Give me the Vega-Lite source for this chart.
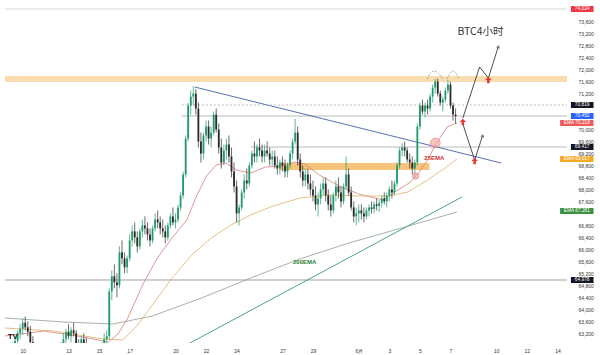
{
"$schema":"https://vega.github.io/schema/vega-lite/v6.json",
"width":572,"height":343,
"autosize":{"type":"none"},
"padding":{"left":0,"top":0,"right":28,"bottom":12},
"background":"#ffffff",
"config":{"view":{"stroke":null},"axis":{"titleOpacity":0,"grid":false,"labelOverlap":false,"labelSeparation":0},"font":"Liberation Sans"},
"resolve":{"scale":{"color":"independent","size":"independent"}},
"datasets":{
"k":[
{"d":9.0,"o":62100,"h":62400,"l":61800,"c":62300},{"d":9.167,"o":62300,"h":62700,"l":62200,"c":62600},{"d":9.333,"o":62600,"h":62900,"l":62400,"c":62800},{"d":9.5,"o":62800,"h":63100,"l":62600,"c":62950},{"d":9.667,"o":62950,"h":63300,"l":62850,"c":63200},{"d":9.833,"o":63200,"h":63500,"l":63000,"c":63350},
{"d":10.0,"o":63350,"h":63700,"l":63150,"c":63550},{"d":10.167,"o":63550,"h":63760,"l":63300,"c":63400},{"d":10.333,"o":63400,"h":63600,"l":63100,"c":63250},{"d":10.5,"o":63250,"h":63450,"l":62800,"c":62900},{"d":10.667,"o":62900,"h":63100,"l":62200,"c":62400},{"d":10.833,"o":62400,"h":62600,"l":61800,"c":62000},
{"d":11.0,"o":62000,"h":62200,"l":61700,"c":61900},{"d":11.167,"o":61900,"h":62100,"l":61600,"c":61800},{"d":11.333,"o":61800,"h":62000,"l":61500,"c":61700},{"d":11.5,"o":61700,"h":62100,"l":61600,"c":62000},{"d":11.667,"o":62000,"h":62300,"l":61800,"c":62100},{"d":11.833,"o":62100,"h":62400,"l":61900,"c":62000},
{"d":12.0,"o":62000,"h":62200,"l":61700,"c":61900},{"d":12.167,"o":61900,"h":62300,"l":61800,"c":62200},{"d":12.333,"o":62200,"h":62600,"l":62100,"c":62500},{"d":12.5,"o":62500,"h":62900,"l":62400,"c":62800},{"d":12.667,"o":62800,"h":63200,"l":62700,"c":63000},{"d":12.833,"o":63000,"h":63350,"l":62850,"c":63250},
{"d":13.0,"o":63250,"h":63500,"l":63000,"c":63100},{"d":13.167,"o":63100,"h":63400,"l":62900,"c":63300},{"d":13.333,"o":63300,"h":63550,"l":63100,"c":63200},{"d":13.5,"o":63200,"h":63300,"l":62700,"c":62800},{"d":13.667,"o":62800,"h":63000,"l":62500,"c":62700},{"d":13.833,"o":62700,"h":63100,"l":62600,"c":63000},
{"d":14.0,"o":63000,"h":63200,"l":62700,"c":62850},{"d":14.167,"o":62850,"h":63050,"l":62500,"c":62600},{"d":14.333,"o":62600,"h":62800,"l":62200,"c":62300},{"d":14.5,"o":62300,"h":62500,"l":61900,"c":62100},{"d":14.667,"o":62100,"h":62300,"l":61700,"c":61900},{"d":14.833,"o":61900,"h":62200,"l":61800,"c":62100},
{"d":15.0,"o":62100,"h":62500,"l":62000,"c":62400},{"d":15.167,"o":62400,"h":62900,"l":62300,"c":62800},{"d":15.333,"o":62800,"h":63200,"l":62600,"c":63000},{"d":15.5,"o":63000,"h":63300,"l":62700,"c":63100},{"d":15.667,"o":63100,"h":64700,"l":63000,"c":64600},{"d":15.833,"o":64600,"h":65300,"l":64300,"c":65100},
{"d":16.0,"o":65100,"h":65500,"l":64700,"c":64900},{"d":16.167,"o":64900,"h":65200,"l":64400,"c":64800},{"d":16.333,"o":64800,"h":66100,"l":64700,"c":65900},{"d":16.5,"o":65900,"h":66300,"l":65500,"c":65700},{"d":16.667,"o":65700,"h":65900,"l":65200,"c":65400},{"d":16.833,"o":65400,"h":65800,"l":65200,"c":65700},
{"d":17.0,"o":65700,"h":66500,"l":65600,"c":66300},{"d":17.167,"o":66300,"h":66800,"l":66100,"c":66600},{"d":17.333,"o":66600,"h":66900,"l":66200,"c":66400},{"d":17.5,"o":66400,"h":66600,"l":65900,"c":66100},{"d":17.667,"o":66100,"h":66700,"l":66000,"c":66600},{"d":17.833,"o":66600,"h":67000,"l":66400,"c":66800},
{"d":18.0,"o":66800,"h":67100,"l":66500,"c":66700},{"d":18.167,"o":66700,"h":66900,"l":66300,"c":66500},{"d":18.333,"o":66500,"h":66700,"l":66100,"c":66300},{"d":18.5,"o":66300,"h":66800,"l":66200,"c":66700},{"d":18.667,"o":66700,"h":67200,"l":66600,"c":67000},{"d":18.833,"o":67000,"h":67300,"l":66700,"c":66900},
{"d":19.0,"o":66900,"h":67100,"l":66500,"c":66700},{"d":19.167,"o":66700,"h":67000,"l":66400,"c":66600},{"d":19.333,"o":66600,"h":66800,"l":66200,"c":66400},{"d":19.5,"o":66400,"h":66900,"l":66300,"c":66800},{"d":19.667,"o":66800,"h":67200,"l":66700,"c":67100},{"d":19.833,"o":67100,"h":67400,"l":66800,"c":66900},
{"d":20.0,"o":66900,"h":67200,"l":66700,"c":67000},{"d":20.167,"o":67000,"h":67500,"l":66900,"c":67400},{"d":20.333,"o":67400,"h":67900,"l":67300,"c":67800},{"d":20.5,"o":67800,"h":68600,"l":67700,"c":68500},{"d":20.667,"o":68500,"h":69800,"l":68400,"c":69700},{"d":20.833,"o":69700,"h":70900,"l":69600,"c":70800},
{"d":21.0,"o":70800,"h":71300,"l":70500,"c":71100},{"d":21.167,"o":71100,"h":71450,"l":70800,"c":71200},{"d":21.333,"o":71200,"h":71350,"l":70500,"c":70700},{"d":21.5,"o":70700,"h":70900,"l":69400,"c":69600},{"d":21.667,"o":69600,"h":69900,"l":68900,"c":69200},{"d":21.833,"o":69200,"h":69900,"l":69000,"c":69800},
{"d":22.0,"o":69800,"h":70300,"l":69600,"c":70100},{"d":22.167,"o":70100,"h":70300,"l":69500,"c":69700},{"d":22.333,"o":69700,"h":70100,"l":69400,"c":69900},{"d":22.5,"o":69900,"h":70600,"l":69800,"c":70500},{"d":22.667,"o":70500,"h":70700,"l":69900,"c":70000},{"d":22.833,"o":70000,"h":70200,"l":69200,"c":69400},
{"d":23.0,"o":69400,"h":69700,"l":68700,"c":68900},{"d":23.167,"o":68900,"h":69500,"l":68800,"c":69300},{"d":23.333,"o":69300,"h":69700,"l":69000,"c":69500},{"d":23.5,"o":69500,"h":69800,"l":68900,"c":69100},{"d":23.667,"o":69100,"h":69400,"l":68400,"c":68600},{"d":23.833,"o":68600,"h":68900,"l":67900,"c":68100},
{"d":24.0,"o":68100,"h":68300,"l":66900,"c":67200},{"d":24.167,"o":67200,"h":67500,"l":66800,"c":67400},{"d":24.333,"o":67400,"h":68000,"l":67300,"c":67900},{"d":24.5,"o":67900,"h":68500,"l":67700,"c":68300},{"d":24.667,"o":68300,"h":68700,"l":68000,"c":68200},{"d":24.833,"o":68200,"h":68900,"l":68100,"c":68800},
{"d":25.0,"o":68800,"h":69300,"l":68700,"c":69200},{"d":25.167,"o":69200,"h":69600,"l":68900,"c":69100},{"d":25.333,"o":69100,"h":69500,"l":68900,"c":69400},{"d":25.5,"o":69400,"h":69700,"l":69100,"c":69300},{"d":25.667,"o":69300,"h":69500,"l":68900,"c":69100},{"d":25.833,"o":69100,"h":69500,"l":68900,"c":69300},
{"d":26.0,"o":69300,"h":69600,"l":69100,"c":69200},{"d":26.167,"o":69200,"h":69400,"l":68800,"c":69000},{"d":26.333,"o":69000,"h":69300,"l":68800,"c":69100},{"d":26.5,"o":69100,"h":69300,"l":68700,"c":68800},{"d":26.667,"o":68800,"h":69100,"l":68500,"c":68700},{"d":26.833,"o":68700,"h":69000,"l":68500,"c":68900},
{"d":27.0,"o":68900,"h":69100,"l":68600,"c":68800},{"d":27.167,"o":68800,"h":69000,"l":68400,"c":68600},{"d":27.333,"o":68600,"h":68900,"l":68400,"c":68800},{"d":27.5,"o":68800,"h":69300,"l":68700,"c":69200},{"d":27.667,"o":69200,"h":69700,"l":69000,"c":69600},{"d":27.833,"o":69600,"h":70350,"l":69500,"c":69900},
{"d":28.0,"o":69900,"h":70100,"l":68800,"c":69000},{"d":28.167,"o":69000,"h":69200,"l":68400,"c":68600},{"d":28.333,"o":68600,"h":68800,"l":68100,"c":68300},{"d":28.5,"o":68300,"h":68700,"l":68100,"c":68500},{"d":28.667,"o":68500,"h":68700,"l":68000,"c":68200},{"d":28.833,"o":68200,"h":68500,"l":67800,"c":68000},
{"d":29.0,"o":68000,"h":68300,"l":67600,"c":67800},{"d":29.167,"o":67800,"h":68100,"l":67300,"c":67500},{"d":29.333,"o":67500,"h":67900,"l":67100,"c":67700},{"d":29.5,"o":67700,"h":68200,"l":67500,"c":68000},{"d":29.667,"o":68000,"h":68400,"l":67800,"c":68200},{"d":29.833,"o":68200,"h":68400,"l":67600,"c":67800},
{"d":30.0,"o":67800,"h":68000,"l":67300,"c":67500},{"d":30.167,"o":67500,"h":67800,"l":67100,"c":67300},{"d":30.333,"o":67300,"h":67900,"l":67200,"c":67800},{"d":30.5,"o":67800,"h":68300,"l":67600,"c":68100},{"d":30.667,"o":68100,"h":68400,"l":67700,"c":67900},{"d":30.833,"o":67900,"h":68100,"l":67400,"c":67600},
{"d":31.0,"o":67600,"h":68200,"l":67500,"c":68100},{"d":31.167,"o":68100,"h":69100,"l":68000,"c":68500},{"d":31.333,"o":68500,"h":68700,"l":67800,"c":67900},{"d":31.5,"o":67900,"h":68100,"l":67300,"c":67400},{"d":31.667,"o":67400,"h":67600,"l":66900,"c":67100},{"d":31.833,"o":67100,"h":67400,"l":66800,"c":67200},
{"d":32.0,"o":67200,"h":67500,"l":66900,"c":67300},{"d":32.167,"o":67300,"h":67500,"l":67000,"c":67200},{"d":32.333,"o":67200,"h":67400,"l":66900,"c":67100},{"d":32.5,"o":67100,"h":67400,"l":67000,"c":67300},{"d":32.667,"o":67300,"h":67500,"l":67100,"c":67400},{"d":32.833,"o":67400,"h":67600,"l":67200,"c":67350},
{"d":33.0,"o":67350,"h":67600,"l":67200,"c":67500},{"d":33.167,"o":67500,"h":67700,"l":67300,"c":67450},{"d":33.333,"o":67450,"h":67650,"l":67250,"c":67550},{"d":33.5,"o":67550,"h":67800,"l":67400,"c":67700},{"d":33.667,"o":67700,"h":67900,"l":67500,"c":67600},{"d":33.833,"o":67600,"h":67900,"l":67400,"c":67800},
{"d":34.0,"o":67800,"h":68100,"l":67600,"c":68000},{"d":34.167,"o":68000,"h":68300,"l":67700,"c":67900},{"d":34.333,"o":67900,"h":68300,"l":67800,"c":68200},{"d":34.5,"o":68200,"h":68900,"l":68100,"c":68800},{"d":34.667,"o":68800,"h":69400,"l":68700,"c":69300},{"d":34.833,"o":69300,"h":69550,"l":69100,"c":69400},
{"d":35.0,"o":69400,"h":69600,"l":69100,"c":69300},{"d":35.167,"o":69300,"h":69400,"l":68900,"c":69000},{"d":35.333,"o":69000,"h":69200,"l":68700,"c":68900},{"d":35.5,"o":68900,"h":69100,"l":68500,"c":68700},{"d":35.667,"o":68700,"h":69000,"l":68400,"c":68900},{"d":35.833,"o":68900,"h":70200,"l":68800,"c":70100},
{"d":36.0,"o":70100,"h":70900,"l":70000,"c":70800},{"d":36.167,"o":70800,"h":71000,"l":70500,"c":70600},{"d":36.333,"o":70600,"h":70900,"l":70400,"c":70800},{"d":36.5,"o":70800,"h":71000,"l":70500,"c":70700},{"d":36.667,"o":70700,"h":71200,"l":70600,"c":71100},{"d":36.833,"o":71100,"h":71500,"l":70900,"c":71400},
{"d":37.0,"o":71400,"h":71700,"l":71200,"c":71600},{"d":37.167,"o":71600,"h":71700,"l":71100,"c":71200},{"d":37.333,"o":71200,"h":71300,"l":70800,"c":70900},{"d":37.5,"o":70900,"h":71100,"l":70600,"c":71000},{"d":37.667,"o":71000,"h":71400,"l":70900,"c":71300},{"d":37.833,"o":71300,"h":71650,"l":71200,"c":71500},
{"d":38.0,"o":71500,"h":71600,"l":70700,"c":70800},{"d":38.167,"o":70800,"h":70900,"l":70300,"c":70500},{"d":38.333,"o":70500,"h":70700,"l":70200,"c":70450}
],
"ema":[
{"e":"a","d":8.842,"p":63108},{"e":"a","d":11.415,"p":63275},{"e":"a","d":13.987,"p":63075},{"e":"a","d":15.595,"p":62908},{"e":"a","d":16.237,"p":63175},{"e":"a","d":16.881,"p":63709},{"e":"a","d":17.845,"p":64811},{"e":"a","d":18.81,"p":65712},{"e":"a","d":19.775,"p":66380},{"e":"a","d":20.739,"p":66980},{"e":"a","d":21.382,"p":67781},{"e":"a","d":22.026,"p":68449},{"e":"a","d":22.669,"p":68817},{"e":"a","d":23.312,"p":68883},{"e":"a","d":23.955,"p":68649},{"e":"a","d":24.92,"p":68549},{"e":"a","d":25.884,"p":68749},{"e":"a","d":26.849,"p":68783},{"e":"a","d":27.813,"p":68916},{"e":"a","d":28.457,"p":68850},{"e":"a","d":29.421,"p":68483},{"e":"a","d":30.707,"p":68115},{"e":"a","d":31.993,"p":67848},{"e":"a","d":33.601,"p":67648},{"e":"a","d":34.566,"p":67982},{"e":"a","d":35.402,"p":68249},{"e":"a","d":35.852,"p":68516},{"e":"a","d":36.495,"p":68983},{"e":"a","d":37.01,"p":69484},{"e":"a","d":37.781,"p":70085},{"e":"a","d":38.425,"p":70218},
{"e":"b","d":8.842,"p":63375},{"e":"b","d":12.057,"p":63275},{"e":"b","d":15.273,"p":63008},{"e":"b","d":16.559,"p":62975},{"e":"b","d":17.524,"p":63475},{"e":"b","d":18.488,"p":64143},{"e":"b","d":19.775,"p":65044},{"e":"b","d":21.061,"p":65812},{"e":"b","d":22.347,"p":66380},{"e":"b","d":23.633,"p":66814},{"e":"b","d":24.92,"p":67147},{"e":"b","d":26.205,"p":67414},{"e":"b","d":28.135,"p":67715},{"e":"b","d":30.064,"p":67815},{"e":"b","d":31.993,"p":67782},{"e":"b","d":33.922,"p":67782},{"e":"b","d":35.209,"p":67915},{"e":"b","d":36.495,"p":68316},{"e":"b","d":37.459,"p":68649},{"e":"b","d":38.425,"p":69017},
{"e":"g","d":8.842,"p":63709},{"e":"g","d":12.701,"p":63576},{"e":"g","d":15.916,"p":63509},{"e":"g","d":18.488,"p":63776},{"e":"g","d":21.704,"p":64377},{"e":"g","d":24.92,"p":65044},{"e":"g","d":28.135,"p":65679},{"e":"g","d":31.35,"p":66213},{"e":"g","d":34.566,"p":66680},{"e":"g","d":38.425,"p":67247}
],
"lines":[
{"s":"top","d1":8.842,"p1":74024,"d2":45.627,"p2":74024},
{"s":"gr","d1":20.418,"p1":70452,"d2":45.627,"p2":70452},
{"s":"gr","d1":24.92,"p1":69417,"d2":45.627,"p2":69417},
{"s":"dk","d1":8.842,"p1":64978,"d2":45.627,"p2":64978},
{"s":"blue","d1":21.254,"p1":71420,"d2":41.318,"p2":68883},
{"s":"green","d1":20.096,"p1":62641,"d2":38.746,"p2":67748},
{"s":"arrow","d1":38.81,"p1":70385,"d2":39.904,"p2":72088},
{"s":"arrow","d1":39.904,"p1":72088,"d2":40.482,"p2":71720},
{"s":"arrow","d1":40.482,"p1":71720,"d2":41.125,"p2":72755},
{"s":"arrow","d1":38.81,"p1":70185,"d2":39.582,"p2":68983},
{"s":"arrow","d1":39.582,"p1":68983,"d2":40.096,"p2":69784}
],
"boxes":[
{"d1":45.884,"d2":47.363,"dm":46.62,"p":74024,"p1":73924,"p2":74124,"t":"74,024","b":"red"},
{"d1":45.884,"d2":47.363,"dm":46.62,"p":70819,"p1":70719,"p2":70919,"t":"70,819","b":"black"},
{"d1":45.884,"d2":47.363,"dm":46.62,"p":70452,"p1":70352,"p2":70552,"t":"70,452","b":"blue"},
{"d1":45.177,"d2":47.363,"dm":46.27,"p":70218,"p1":70118,"p2":70318,"t":"EMA 70,218","b":"red2"},
{"d1":45.884,"d2":47.363,"dm":46.62,"p":69417,"p1":69317,"p2":69517,"t":"69,417","b":"black"},
{"d1":45.177,"d2":47.363,"dm":46.27,"p":69017,"p1":68917,"p2":69117,"t":"EMA 69,017","b":"orange"},
{"d1":45.177,"d2":47.363,"dm":46.27,"p":67281,"p1":67181,"p2":67381,"t":"EMA 67,281","b":"green"},
{"d1":45.884,"d2":47.363,"dm":46.62,"p":64978,"p1":64878,"p2":65078,"t":"64,978","b":"black"}
]
},
"layer":[
{"data":{"values":[{"d1":8.842,"d2":45.627,"p1":71587,"p2":71787,"f":"top"},{"d1":26.849,"d2":36.624,"p1":68649,"p2":68883,"f":"mid"}]},
 "mark":{"type":"rect","opacity":0.8},
 "encoding":{
  "x":{"field":"d1","type":"quantitative","title":null,"scale":{"domain":[8.842,45.627],"nice":false,"zero":false},
   "axis":{"values":[10,13,15,17,20,22,24,27,29,32,34,36,38,41,43,45],"tickCount":100,"labelExpr":"datum.value==32?'6月':(datum.value>31?''+(datum.value-31):''+datum.value)","ticks":false,"domain":false,"grid":false,"labelFontSize":5,"labelColor":"#333333","labelPadding":5,"title":null,"labelOverlap":false,"labelFlush":false}},
  "x2":{"field":"d2"},
  "y":{"field":"p1","type":"quantitative","title":null,"scale":{"domain":[62875,74324],"nice":false,"zero":false},
   "axis":{"orient":"right","values":[63200,63600,64000,64400,64800,65200,65600,66000,66400,66800,67600,68000,68400,68800,69200,69600,70000,71200,71600,72000,72400,72800,73200,73600],"tickCount":100,"format":",d","ticks":false,"domain":false,"grid":false,"labelFontSize":5,"labelColor":"#333333","labelPadding":6,"title":null,"labelOverlap":false}},
  "y2":{"field":"p2"},
  "color":{"field":"f","type":"nominal","scale":{"domain":["top","mid"],"range":["#f7d49c","#f4b65a"]},"legend":null}
 }},
{"data":{"name":"lines"},
 "mark":{"type":"rule","strokeWidth":0.8,"clip":true},
 "encoding":{
  "x":{"field":"d1","type":"quantitative","title":null},"x2":{"field":"d2"},
  "y":{"field":"p1","type":"quantitative","title":null},"y2":{"field":"p2"},
  "color":{"field":"s","type":"nominal","scale":{"domain":["top","gr","dk","blue","green","arrow"],"range":["#d9c9c9","#a8a8a8","#8a8a8a","#2d4d9c","#1f8b5e","#222222"]},"legend":null}
 }},
{"data":{"values":[{"d1":20.418,"d2":45.627,"p":70819}]},
 "mark":{"type":"rule","strokeWidth":0.8,"strokeDash":[2,2],"color":"#aaaaaa"},
 "encoding":{"x":{"field":"d1","type":"quantitative","title":null},"x2":{"field":"d2"},"y":{"field":"p","type":"quantitative","title":null}}},
{"data":{"name":"ema"},
 "mark":{"type":"line","strokeWidth":0.8,"clip":true},
 "encoding":{
  "x":{"field":"d","type":"quantitative","title":null},
  "y":{"field":"p","type":"quantitative","title":null},
  "color":{"field":"e","type":"nominal","scale":{"domain":["a","b","g"],"range":["#e07a7a","#d9b36a","#8f9f92"]},"legend":null}
 }},
{"data":{"name":"k"},
 "mark":{"type":"rule","strokeWidth":0.7,"clip":true},
 "encoding":{
  "x":{"field":"d","type":"quantitative","title":null},
  "y":{"field":"l","type":"quantitative","title":null},"y2":{"field":"h"},
  "color":{"condition":{"test":"datum.c >= datum.o","value":"#1f9b69"},"value":"#2b2b2b"}
 }},
{"data":{"name":"k"},
 "mark":{"type":"bar","size":1.8,"clip":true},
 "encoding":{
  "x":{"field":"d","type":"quantitative","title":null},
  "y":{"field":"o","type":"quantitative","title":null},"y2":{"field":"c"},
  "color":{"condition":{"test":"datum.c >= datum.o","value":"#1f9b69"},"value":"#2b2b2b"}
 }},
{"data":{"values":[{"g":1,"d":36.495,"p":71687},{"g":1,"d":36.688,"p":71887},{"g":1,"d":36.945,"p":71954},{"g":1,"d":37.202,"p":71887},{"g":1,"d":37.46,"p":71687},{"g":2,"d":37.781,"p":71687},{"g":2,"d":37.974,"p":71887},{"g":2,"d":38.167,"p":71954},{"g":2,"d":38.36,"p":71887},{"g":2,"d":38.553,"p":71687}]},
 "mark":{"type":"line","strokeWidth":0.7,"strokeDash":[1.5,1.5],"color":"#777777","interpolate":"monotone"},
 "encoding":{"x":{"field":"d","type":"quantitative","title":null},"y":{"field":"p","type":"quantitative","title":null},"detail":{"field":"g","type":"nominal"}}},
{"data":{"values":[{"d":37.01,"p":69551,"r":"big"},{"d":35.72,"p":68449,"r":"sm"}]},
 "mark":{"type":"point","filled":true,"fill":"#f3a5a5","fillOpacity":0.65,"stroke":"#e07a7a","strokeWidth":0.6},
 "encoding":{"x":{"field":"d","type":"quantitative","title":null},"y":{"field":"p","type":"quantitative","title":null},
  "size":{"field":"r","type":"nominal","scale":{"domain":["big","sm"],"range":[95,40]},"legend":null}}},
{"data":{"values":[{"d":38.81,"p":70252},{"d":39.582,"p":68950},{"d":40.482,"p":71654}]},
 "mark":{"type":"point","filled":true,"color":"#e53935","opacity":1,"size":42,"shape":"M0,-1L1,0L0.4,0L0.4,1L-0.4,1L-0.4,0L-1,0Z"},
 "encoding":{"x":{"field":"d","type":"quantitative","title":null},"y":{"field":"p","type":"quantitative","title":null}}},
{"data":{"values":[{"d":41.125,"p":72755},{"d":40.096,"p":69784}]},
 "mark":{"type":"point","filled":false,"stroke":"#222222","strokeWidth":0.7,"opacity":1,"size":22,"angle":18,"shape":"M-0.6,0.5L0,-0.5L0.6,0.5"},
 "encoding":{"x":{"field":"d","type":"quantitative","title":null},"y":{"field":"p","type":"quantitative","title":null}}},
{"data":{"values":[{"d":39.968,"p":73256,"t":"BTC4小时"}]},
 "mark":{"type":"text","font":"Noto Sans CJK SC","fontSize":10.5,"color":"#333333"},
 "encoding":{"x":{"field":"d","type":"quantitative","title":null},"y":{"field":"p","type":"quantitative","title":null},"text":{"field":"t"}}},
{"data":{"values":[{"d":36.945,"p":69050,"t":"25EMA"}]},
 "mark":{"type":"text","fontSize":6,"fontWeight":"bold","color":"#d32f2f"},
 "encoding":{"x":{"field":"d","type":"quantitative","title":null},"y":{"field":"p","type":"quantitative","title":null},"text":{"field":"t"}}},
{"data":{"values":[{"d":28.457,"p":65578,"t":"200EMA"}]},
 "mark":{"type":"text","fontSize":6,"fontWeight":"bold","color":"#2e7d32"},
 "encoding":{"x":{"field":"d","type":"quantitative","title":null},"y":{"field":"p","type":"quantitative","title":null},"text":{"field":"t"}}},
{"data":{"values":[{"d":9.35,"p":63060,"t":"TV"}]},
 "mark":{"type":"text","fontSize":8,"fontWeight":"bold","color":"#131722"},
 "encoding":{"x":{"field":"d","type":"quantitative","title":null},"y":{"field":"p","type":"quantitative","title":null},"text":{"field":"t"}}},
{"data":{"name":"boxes"},
 "mark":{"type":"rect"},
 "encoding":{"x":{"field":"d1","type":"quantitative","title":null},"x2":{"field":"d2"},"y":{"field":"p1","type":"quantitative","title":null},"y2":{"field":"p2"},
  "color":{"field":"b","type":"nominal","scale":{"domain":["red","black","blue","red2","orange","green"],"range":["#f23645","#131722","#2962ff","#ee5a5a","#f5a623","#3b8f3f"]},"legend":null}}},
{"data":{"name":"boxes"},
 "mark":{"type":"text","fontSize":4.8,"color":"#ffffff","baseline":"middle"},
 "encoding":{"x":{"field":"dm","type":"quantitative","title":null},"y":{"field":"p","type":"quantitative","title":null},"text":{"field":"t"}}}
]
}
